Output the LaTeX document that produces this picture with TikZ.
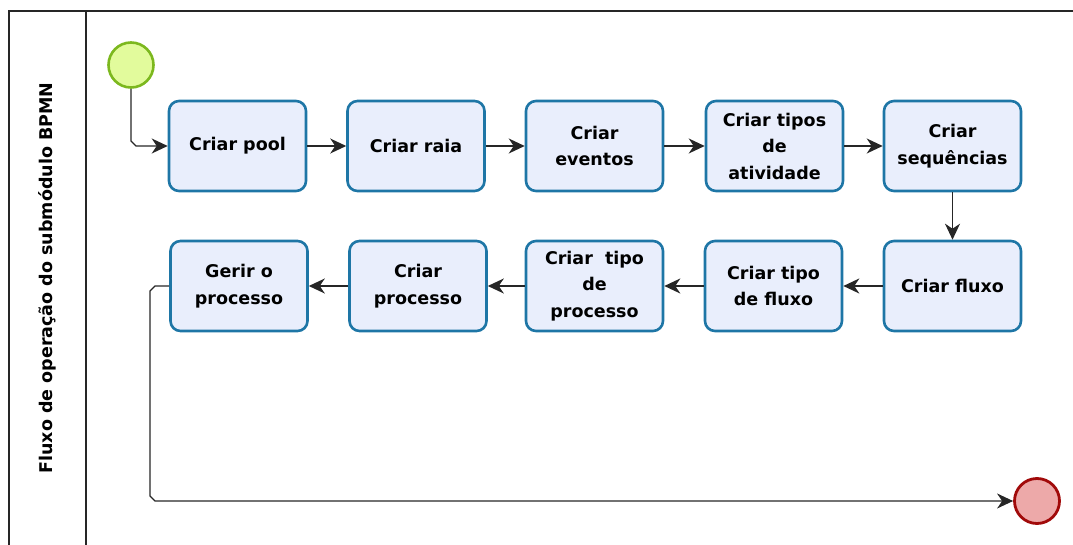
\documentclass[tikz,border=0pt]{standalone}
\usepackage{fontspec}
\setmainfont{DejaVu Sans}
\usetikzlibrary{arrows.meta,calc}
\definecolor{taskfill}{HTML}{E9EEFC}
\definecolor{taskline}{HTML}{1E76A6}
\definecolor{startfill}{HTML}{E2FB9C}
\definecolor{startline}{HTML}{7CB81E}
\definecolor{endfill}{HTML}{EDA9A9}
\definecolor{endline}{HTML}{A10A0A}
\tikzset{
  x=1pt, y=-1pt,
  task/.style={draw=taskline, fill=taskfill, line width=2.6pt, rounded corners=10pt,
    minimum width=137pt, minimum height=90pt, align=center,
    font=\fontsize{17.5}{26.5}\selectfont\bfseries, inner sep=2pt},
  startev/.style={circle, draw=startline, fill=startfill, line width=2.6pt, minimum size=45pt, inner sep=0pt},
  endev/.style={circle, draw=endline, fill=endfill, line width=2.8pt, minimum size=45pt, inner sep=0pt},
  flow/.style={draw=black!85, line width=1.3pt, -{Stealth[length=16pt,width=15pt,inset=5pt]}},
  pool/.style={draw=black!85, line width=1.3pt}
}
\begin{document}
\begin{tikzpicture}
\useasboundingbox (0,0) rectangle (1073,545);
% pool frame and lane header
\begin{scope}
\clip (0,0) rectangle (1073,545);
\draw[pool] (9,560) -- (9,11) -- (1090,11);
\draw[pool] (86,11) -- (86,560);
\end{scope}
\node[rotate=90, font=\fontsize{17.5}{20}\selectfont\bfseries] (lane) at (47,278) {Fluxo de operação do submódulo BPMN};

% events
\node[startev] (start) at (131,65) {};
\node[endev] (end) at (1037,501) {};

% first row of tasks
\node[task] (pool) at (237.5,146) {Criar pool};
\node[task] (raia) at (416,146) {Criar raia};
\node[task] (eventos) at (594.5,146) {Criar\\eventos};
\node[task] (atividade) at (774.5,146) {Criar tipos\\de\\atividade};
\node[task] (sequencias) at (952.5,146) {Criar\\sequências};

% second row of tasks
\node[task] (fluxo) at (952.5,286) {Criar fluxo};
\node[task] (tipofluxo) at (773.5,286) {Criar tipo\\de fluxo};
\node[task] (tipoprocesso) at (594.5,286) {Criar~ tipo\\de\\processo};
\node[task] (processo) at (418,286) {Criar\\processo};
\node[task] (gerir) at (239,286) {Gerir o\\processo};

% sequence flows
\draw[flow] (start.south) -- ($(start.south |- pool.west)+(0,-5)$) -- ($(start.south |- pool.west)+(5,0)$) -- (pool.west);
\draw[flow] (pool) -- (raia);
\draw[flow] (raia) -- (eventos);
\draw[flow] (eventos) -- (atividade);
\draw[flow] (atividade) -- (sequencias);
\draw[flow] (sequencias) -- (fluxo);
\draw[flow] (fluxo) -- (tipofluxo);
\draw[flow] (tipofluxo) -- (tipoprocesso);
\draw[flow] (tipoprocesso) -- (processo);
\draw[flow] (processo) -- (gerir);
\coordinate (bend) at (150,501);
\draw[flow] (gerir.west) -- ($(bend |- gerir.west)+(5,0)$) -- ($(bend |- gerir.west)+(0,5)$)
  -- ($(bend)+(0,-5)$) -- ($(bend)+(5,0)$) -- (end.west);
\end{tikzpicture}
\end{document}
